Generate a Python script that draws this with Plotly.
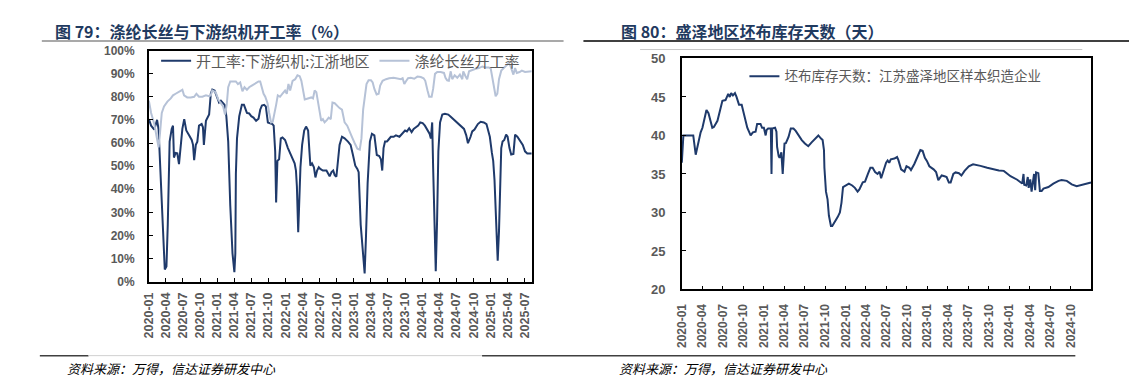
import plotly.graph_objects as go

# ---------------- Chart 79: loom & filament operating rates ----------------
loom_dates = [
    "2020-01-01","2020-01-13","2020-01-30","2020-02-14","2020-02-22","2020-03-05","2020-03-17","2020-03-26",
    "2020-04-04","2020-04-11","2020-04-21","2020-05-02","2020-05-09","2020-05-14","2020-05-23","2020-06-01",
    "2020-06-10","2020-06-19","2020-06-28","2020-07-08","2020-07-19","2020-08-03","2020-08-17","2020-08-24",
    "2020-08-30","2020-09-08","2020-09-16","2020-09-25","2020-10-09","2020-10-16","2020-10-21","2020-11-01",
    "2020-11-09","2020-11-18","2020-11-27","2020-12-05","2020-12-17","2020-12-28","2021-01-10","2021-01-20",
    "2021-02-01","2021-02-09","2021-02-18","2021-02-28","2021-03-11","2021-03-23","2021-04-02","2021-04-07",
    "2021-04-10","2021-04-16","2021-04-28","2021-05-12","2021-05-23","2021-06-08","2021-06-20","2021-07-01",
    "2021-07-13","2021-07-27","2021-08-09","2021-08-18","2021-08-27","2021-09-08","2021-09-17","2021-09-28",
    "2021-10-10","2021-10-22","2021-10-29","2021-11-06","2021-11-11","2021-11-18","2021-11-27","2021-12-06",
    "2021-12-15","2021-12-29","2022-01-13","2022-01-25","2022-02-07","2022-02-18","2022-02-25","2022-03-02",
    "2022-03-09","2022-03-14","2022-03-21","2022-03-30","2022-04-10","2022-04-20","2022-05-01","2022-05-08",
    "2022-05-13","2022-05-22","2022-06-01","2022-06-09","2022-06-18","2022-06-27","2022-07-05","2022-07-19",
    "2022-08-07","2022-08-24","2022-09-03","2022-09-12","2022-09-20","2022-09-29","2022-10-08","2022-10-16",
    "2022-10-29","2022-11-12","2022-11-30","2022-12-14","2022-12-26","2023-01-08","2023-01-19","2023-01-26",
    "2023-02-06","2023-02-19","2023-02-27","2023-03-06","2023-03-15","2023-03-27","2023-04-07","2023-04-20",
    "2023-04-28","2023-05-03","2023-05-16","2023-05-25","2023-06-01","2023-06-08","2023-06-16","2023-06-26",
    "2023-07-03","2023-07-10","2023-07-17","2023-08-01","2023-08-13","2023-09-01","2023-09-18","2023-10-01",
    "2023-10-11","2023-10-23","2023-11-05","2023-11-16","2023-11-28","2023-12-10","2023-12-21","2024-01-03",
    "2024-01-15","2024-01-29","2024-02-09","2024-02-16","2024-02-23","2024-02-28","2024-03-06","2024-03-13",
    "2024-03-20","2024-03-27","2024-04-05","2024-04-17","2024-05-01","2024-05-19","2024-06-01","2024-06-15",
    "2024-06-27","2024-07-09","2024-07-23","2024-08-11","2024-08-23","2024-09-01","2024-09-15","2024-09-24",
    "2024-10-06","2024-10-24","2024-11-08","2024-11-25","2024-12-09","2024-12-18","2024-12-27","2025-01-07",
    "2025-01-14","2025-01-21","2025-01-30","2025-02-07","2025-02-14","2025-02-19","2025-02-26","2025-03-05",
    "2025-03-14","2025-03-24","2025-04-01","2025-04-11","2025-04-20","2025-05-02","2025-05-11","2025-05-23",
    "2025-06-07","2025-06-21","2025-07-03","2025-07-15","2025-08-08",
]
loom_values = [
    70.3, 67.5, 65.8, 70.0, 65.8, 44.0, 19.0, 5.3,
    6.6, 24.6, 60.6, 66.1, 67.5, 53.7, 55.7, 55.5,
    50.9, 57.8, 66.1, 70.3, 65.4, 63.3, 61.3, 59.2,
    52.6, 59.2, 60.6, 67.5, 68.2, 66.8, 59.2, 69.6,
    71.0, 72.3, 81.3, 83.1, 82.7, 80.6, 77.5, 78.3,
    77.2, 76.5, 71.6, 60.6, 33.0, 12.2, 4.1, 12.2,
    46.7, 62.0, 71.6, 76.5, 76.5, 73.0, 72.8, 71.6,
    71.0, 69.6, 70.5, 74.4, 76.2, 76.5, 75.8, 68.9,
    68.5, 68.2, 67.5, 56.4, 34.3, 52.3, 53.0, 62.0,
    62.4, 61.3, 57.8, 55.7, 53.7, 51.2, 48.1, 41.2,
    21.4, 32.9, 49.5, 59.2, 65.4, 67.1, 65.4, 56.4,
    50.2, 51.2, 49.5, 45.1, 48.1, 49.5, 48.8, 48.1,
    48.1, 45.6, 47.4, 48.1, 46.1, 45.4, 52.3, 59.2,
    62.7, 62.0, 60.6, 59.2, 55.0, 50.2, 48.8, 47.4,
    24.6, 10.8, 3.6, 19.1, 42.6, 60.6, 64.0, 63.3,
    57.8, 54.8, 54.4, 53.0, 48.1, 57.8, 60.6, 60.6,
    61.3, 62.0, 62.7, 62.7, 63.3, 62.7, 64.0, 65.4,
    65.0, 66.4, 64.7, 66.1, 66.8, 67.5, 68.9, 68.6,
    67.5, 65.8, 64.0, 62.0, 68.9, 49.5, 19.1, 4.6,
    26.0, 56.4, 68.9, 72.3, 72.6, 72.3, 71.4, 70.3,
    69.2, 68.6, 67.5, 66.1, 63.3, 59.9, 62.7, 65.0,
    65.8, 68.2, 69.2, 68.9, 68.2, 65.8, 62.7, 55.7,
    52.3, 44.0, 26.0, 9.1, 21.9, 44.0, 57.8, 60.6,
    61.3, 63.6, 62.7, 57.8, 55.0, 55.3, 63.6, 62.7,
    60.6, 59.2, 56.4, 55.5, 55.5,
]

fil_dates = [
    "2020-01-01","2020-01-13","2020-01-30","2020-02-12","2020-02-22","2020-03-01","2020-03-10","2020-03-22",
    "2020-04-09","2020-04-27","2020-05-09","2020-05-23","2020-06-10","2020-06-28","2020-07-07","2020-07-24",
    "2020-08-12","2020-08-30","2020-09-11","2020-09-25","2020-10-13","2020-11-01","2020-11-18","2020-11-27",
    "2020-12-05","2020-12-23","2021-01-06","2021-01-19","2021-02-01","2021-02-11","2021-02-20","2021-02-28",
    "2021-03-11","2021-03-29","2021-04-10","2021-04-21","2021-05-03","2021-05-15","2021-05-26","2021-06-08",
    "2021-06-20","2021-07-04","2021-07-21","2021-08-09","2021-08-18","2021-08-27","2021-09-05","2021-09-14",
    "2021-09-26","2021-10-05","2021-10-15","2021-10-24","2021-11-03","2021-11-11","2021-11-20","2021-12-02",
    "2021-12-15","2021-12-29","2022-01-07","2022-01-16","2022-01-25","2022-02-07","2022-02-21","2022-03-05",
    "2022-03-17","2022-03-26","2022-04-13","2022-05-01","2022-05-18","2022-05-27","2022-06-05","2022-06-14",
    "2022-06-23","2022-07-02","2022-07-10","2022-07-19","2022-07-28","2022-08-10","2022-08-19","2022-08-30",
    "2022-09-08","2022-09-20","2022-10-04","2022-10-16","2022-10-29","2022-11-12","2022-11-26","2022-12-09",
    "2022-12-21","2023-01-05","2023-01-19","2023-02-01","2023-02-10","2023-02-19","2023-02-27","2023-03-09",
    "2023-03-20","2023-04-02","2023-04-11","2023-04-20","2023-05-02","2023-05-13","2023-05-21","2023-06-03",
    "2023-06-21","2023-07-08","2023-08-01","2023-08-22","2023-09-09","2023-09-18","2023-09-27","2023-10-05",
    "2023-10-17","2023-11-01","2023-11-19","2023-12-06","2023-12-24","2024-01-08","2024-01-17","2024-01-29",
    "2024-02-07","2024-02-20","2024-02-28","2024-03-09","2024-03-21","2024-04-08","2024-04-26","2024-05-04",
    "2024-05-13","2024-05-22","2024-06-01","2024-06-09","2024-06-22","2024-07-06","2024-07-20","2024-08-02",
    "2024-08-07","2024-08-19","2024-08-28","2024-09-07","2024-09-24","2024-10-12","2024-10-30","2024-11-17",
    "2024-12-04","2024-12-22","2025-01-01","2025-01-09","2025-01-18","2025-01-27","2025-02-05","2025-02-14",
    "2025-02-26","2025-03-10","2025-03-24","2025-04-06","2025-04-15","2025-04-24","2025-05-02","2025-05-11",
    "2025-05-20","2025-06-04","2025-06-16","2025-07-03","2025-07-21","2025-08-08",
]
fil_values = [
    78.3, 73.0, 68.2, 62.0, 58.1, 64.7, 73.0, 75.8,
    77.9, 79.3, 80.6, 81.3, 82.0, 83.0, 80.6, 79.7,
    79.7, 80.0, 81.3, 80.0, 80.0, 80.6, 80.2, 80.6,
    82.7, 82.0, 78.8, 77.2, 75.8, 72.3, 76.5, 84.1,
    86.6, 86.6, 86.6, 85.5, 86.2, 82.4, 84.1, 83.0,
    84.1, 84.8, 85.8, 86.6, 86.6, 83.4, 81.3, 80.0,
    77.2, 73.0, 68.9, 69.2, 72.8, 76.5, 80.6, 80.0,
    81.3, 82.7, 81.3, 85.5, 82.7, 86.9, 87.6, 89.3,
    88.9, 86.9, 78.8, 79.3, 79.7, 79.3, 82.7, 82.0,
    77.9, 72.3, 69.6, 70.3, 68.9, 70.0, 71.0, 70.3,
    77.5, 77.2, 75.8, 75.1, 74.4, 68.9, 67.5, 64.7,
    62.7, 59.9, 57.5, 57.1, 62.0, 74.4, 80.0, 85.5,
    87.1, 87.1, 86.2, 83.4, 81.0, 81.3, 84.8, 86.9,
    87.6, 88.0, 88.2, 88.0, 87.6, 88.0, 85.5, 86.6,
    88.0, 88.2, 87.8, 88.7, 88.5, 88.0, 86.9, 82.7,
    80.0, 80.0, 83.4, 89.9, 90.7, 90.7, 90.3, 88.2,
    87.1, 86.9, 91.0, 87.6, 89.3, 88.2, 89.6, 87.6,
    91.0, 88.9, 87.6, 91.0, 91.7, 92.1, 92.4, 93.1,
    92.7, 92.7, 92.1, 88.2, 84.1, 80.2, 81.3, 87.6,
    91.3, 92.4, 93.8, 94.5, 93.5, 91.0, 89.6, 92.4,
    90.3, 90.7, 91.3, 90.7, 91.0, 91.0,
]

# ---------------- Chart 80: Shengze grey-cloth inventory days ----------------
inv_dates = [
    "2020-01-01","2020-01-08","2020-02-21","2020-03-03","2020-03-25","2020-04-02","2020-04-20","2020-04-29",
    "2020-05-16","2020-05-23","2020-06-08","2020-06-30","2020-07-14","2020-07-26","2020-08-02","2020-08-08",
    "2020-08-16","2020-08-25","2020-09-01","2020-09-12","2020-09-24","2020-10-04","2020-10-19","2020-11-03",
    "2020-11-13","2020-11-25","2020-12-02","2020-12-17","2020-12-24","2021-01-01","2021-01-09","2021-01-13",
    "2021-01-20","2021-02-01","2021-02-04","2021-02-07","2021-02-20","2021-02-26","2021-03-01","2021-03-08",
    "2021-03-12","2021-03-16","2021-03-20","2021-03-26","2021-04-03","2021-04-09","2021-04-21","2021-05-01",
    "2021-05-13","2021-05-23","2021-06-04","2021-06-19","2021-07-03","2021-07-18","2021-08-02","2021-08-17",
    "2021-09-01","2021-09-13","2021-09-20","2021-09-26","2021-09-28","2021-10-05","2021-10-12","2021-10-18",
    "2021-10-27","2021-11-02","2021-11-14","2021-11-26","2021-12-06","2021-12-13","2021-12-20","2022-01-01",
    "2022-01-15","2022-01-30","2022-02-11","2022-02-23","2022-03-03","2022-03-18","2022-03-28","2022-04-10",
    "2022-04-21","2022-05-01","2022-05-12","2022-05-23","2022-06-01","2022-06-08","2022-06-17","2022-06-30",
    "2022-07-07","2022-07-14","2022-07-21","2022-08-06","2022-08-18","2022-08-24","2022-09-05","2022-09-20",
    "2022-09-29","2022-10-12","2022-10-19","2022-11-03","2022-11-18","2022-11-30","2022-12-10","2022-12-20",
    "2022-12-29","2023-01-09","2023-01-28","2023-02-08","2023-02-18","2023-02-27","2023-03-05","2023-03-18",
    "2023-03-27","2023-04-06","2023-04-14","2023-04-26","2023-05-06","2023-05-21","2023-06-01","2023-06-15",
    "2023-07-04","2023-07-23","2023-08-03","2023-08-25","2023-09-24","2023-10-23","2023-11-15","2023-12-07",
    "2024-01-06","2024-02-05","2024-02-27","2024-03-04","2024-03-07","2024-03-16","2024-03-23","2024-03-27",
    "2024-04-03","2024-04-09","2024-04-15","2024-04-20","2024-04-25","2024-04-29","2024-05-09","2024-05-16",
    "2024-05-24","2024-06-01","2024-06-23","2024-07-15","2024-08-07","2024-08-21","2024-09-13","2024-10-05",
    "2024-10-27","2024-11-11","2024-12-10","2024-12-30",
]
inv_values = [
    36.45, 40.0, 40.0, 37.5, 40.4, 41.0, 43.3, 42.9,
    41.0, 41.1, 41.9, 44.5, 44.6, 45.4, 45.0, 45.5,
    45.2, 45.5, 45.0, 44.0, 44.0, 42.7, 41.0, 40.0,
    40.4, 40.5, 41.5, 41.5, 41.0, 41.0, 40.0, 40.7,
    40.9, 40.9, 35.0, 40.9, 41.0, 40.5, 38.5, 37.3,
    37.1, 37.4, 37.8, 35.0, 38.95, 39.0, 39.8, 40.9,
    40.9, 40.6, 40.0, 39.4, 38.95, 38.6, 39.1, 39.5,
    40.0, 39.6, 39.4, 38.1, 35.8, 32.7, 31.7, 29.6,
    28.25, 28.25, 28.75, 29.4, 30.0, 31.25, 33.3, 33.5,
    33.75, 33.5, 33.2, 32.7, 33.0, 33.9, 34.0, 35.0,
    35.8, 35.8, 35.25, 35.0, 35.3, 34.45, 35.25, 36.45,
    36.75, 36.45, 36.9, 37.0, 37.2, 36.8, 35.6, 35.3,
    36.0, 35.8, 35.5, 36.3, 37.3, 38.1, 38.0, 37.1,
    36.7, 36.0, 35.6, 35.25, 34.2, 34.6, 34.8, 34.7,
    34.6, 33.9, 33.9, 35.0, 35.2, 35.1, 34.8, 35.4,
    36.0, 36.25, 36.2, 36.05, 35.8, 35.6, 35.45, 35.4,
    34.7, 34.25, 33.75, 35.0, 33.6, 33.5, 34.6, 33.2,
    34.3, 32.7, 33.9, 35.0, 32.9, 35.2, 35.1, 32.8,
    32.8, 33.1, 33.3, 33.75, 34.1, 34.2, 34.1, 33.65,
    33.4, 33.5, 33.7, 33.9,
]

TITLE_L = "图 79：涤纶长丝与下游织机开工率（%）"
TITLE_R = "图 80：盛泽地区坯布库存天数（天）"
SOURCE = "资料来源：万得，信达证券研发中心"
NAME_LOOM = "开工率:下游织机:江浙地区"
NAME_FIL = "涤纶长丝开工率"
NAME_INV = "坯布库存天数：江苏盛泽地区样本织造企业"

# The page body has an 8px default margin; lay the figure out in page pixels.
OFF = 8
W, H = 1137 - 2 * OFF, 387 - 2 * OFF
DARK = "#1f3a6b"
LIGHT = "#b6c2d7"
TICKC = "#595959"

fig = go.Figure()
fig.add_trace(go.Scatter(x=loom_dates, y=loom_values, name=NAME_LOOM, mode="lines",
                         line=dict(color=DARK, width=2), xaxis="x", yaxis="y", legend="legend"))
fig.add_trace(go.Scatter(x=fil_dates, y=fil_values, name=NAME_FIL, mode="lines",
                         line=dict(color=LIGHT, width=2), xaxis="x", yaxis="y", legend="legend"))
fig.add_trace(go.Scatter(x=inv_dates, y=inv_values, name=NAME_INV, mode="lines",
                         line=dict(color=DARK, width=2), xaxis="x2", yaxis="y2", legend="legend2"))

def px_x(p):
    return (p - OFF) / W

def px_y(p):
    return 1 - (p - OFF) / H

tickfont_y = dict(family="Liberation Sans, Arial", size=12, color=TICKC, weight="bold")
axis_common = dict(showline=True, linecolor="#000000", linewidth=1.5, mirror=True,
                   ticks="inside", ticklen=4, tickcolor="#000000", tickwidth=1,
                   showgrid=False, zeroline=False, fixedrange=True)

fig.update_layout(
    width=W, height=H, margin=dict(l=0, r=0, t=0, b=0),
    paper_bgcolor="white", plot_bgcolor="white",
    font=dict(family="Noto Sans CJK SC", color=TICKC),
    xaxis=dict(domain=[px_x(142.7), px_x(528)], anchor="y", type="date",
               range=["2020-01-01", "2025-08-08"], tick0="2020-01-01", dtick="M3",
               tickformat="%Y-%m", tickangle=-90,
               tickfont=dict(family="Liberation Sans, Arial", size=12.5, color=TICKC, weight="bold"),
               ticklabelstandoff=4, **axis_common),
    yaxis=dict(domain=[px_y(286), px_y(45)], anchor="x", range=[0, 100], dtick=10,
               ticksuffix="%", tickfont=tickfont_y, ticklabelstandoff=10, **axis_common),
    xaxis2=dict(domain=[px_x(679), px_x(1091)], anchor="y2", type="date",
                range=["2020-01-01", "2024-12-31"], tick0="2020-01-01", dtick="M3",
                tickformat="%Y-%m", tickangle=-90,
                tickfont=dict(family="Liberation Sans, Arial", size=12, color=TICKC, weight="bold"),
                ticklabelstandoff=8, **axis_common),
    yaxis2=dict(domain=[px_y(294), px_y(53.3)], anchor="x2", range=[20, 50], dtick=5,
                tickfont=dict(family="Liberation Sans, Arial", size=13, color=TICKC, weight="bold"),
                ticklabelstandoff=12, **axis_common),
    legend=dict(orientation="h", x=px_x(150), y=px_y(56), xanchor="left", yanchor="middle",
                bgcolor="rgba(0,0,0,0)", font=dict(family="Noto Sans CJK SC", size=15, color=TICKC),
                itemwidth=30, tracegroupgap=0),
    legend2=dict(orientation="h", x=px_x(742), y=px_y(72), xanchor="left", yanchor="middle",
                 bgcolor="rgba(0,0,0,0)", font=dict(family="Noto Sans CJK SC", size=13.5, color=TICKC)),
    showlegend=True,
)

title_font = dict(family="Noto Sans CJK SC", size=16, color="#1f3a60", weight="bold")
src_font = dict(family="Noto Sans CJK SC", size=13, color="#000000", style="italic")
fig.add_annotation(text=TITLE_L, x=px_x(46), y=px_y(25), xref="paper", yref="paper",
                   xanchor="left", yanchor="middle", showarrow=False, font=title_font)
fig.add_annotation(text=TITLE_R, x=px_x(616), y=px_y(25), xref="paper", yref="paper",
                   xanchor="left", yanchor="middle", showarrow=False, font=title_font)
fig.add_annotation(text=SOURCE, x=px_x(58), y=px_y(376), xref="paper", yref="paper",
                   xanchor="left", yanchor="middle", showarrow=False, font=src_font)
fig.add_annotation(text=SOURCE, x=px_x(614), y=px_y(376), xref="paper", yref="paper",
                   xanchor="left", yanchor="middle", showarrow=False, font=src_font)

def hline(x0, x1, y, color, width):
    fig.add_shape(type="line", xref="paper", yref="paper",
                  x0=px_x(x0), x1=px_x(x1), y0=px_y(y), y1=px_y(y),
                  line=dict(color=color, width=width))

hline(35, 560, 35, "#8c8c8c", 1.5)
hline(580, 1129, 35, "#404040", 2)
hline(637, 1082, 44, "#c8c8c8", 1)
hline(33, 82, 363, "#404040", 1.5)
hline(82, 478, 363, "#d0d0d0", 1)
hline(478, 1075, 363, "#404040", 1.5)

fig.write_html("out.html")
